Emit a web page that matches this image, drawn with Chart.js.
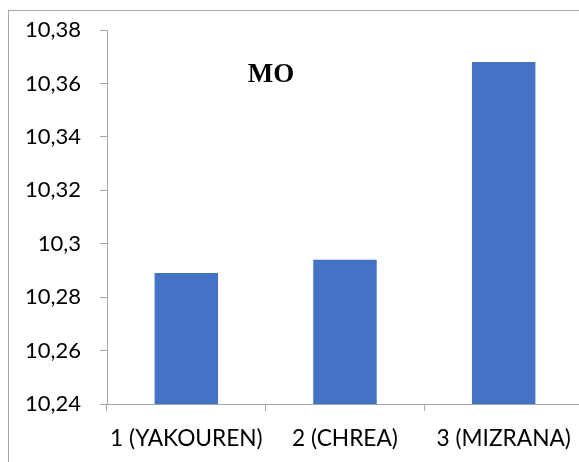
<!DOCTYPE html>
<html>
<head>
<meta charset="utf-8">
<script src="https://cdn.jsdelivr.net/npm/chart.js@4.4.1/dist/chart.umd.min.js"></script>
<style>
  html, body { margin: 0; padding: 0; background: #fff; overflow: hidden; }
  #wrap { position: relative; width: 579px; height: 462px; overflow: hidden; }
  #frame { position: absolute; left: 8px; top: 10px; width: 640px; height: 520px;
           border: 1px solid #a6a6a6; box-sizing: border-box; }
  #box { position: absolute; left: 0; top: 0; width: 600px; height: 462px; }
</style>
</head>
<body>
<div id="wrap">
  <div id="frame"></div>
  <div id="box"><canvas id="c" width="600" height="462"></canvas></div>
</div>
<script>
const categories = ['1 (YAKOUREN)', '2 (CHREA)', '3 (MIZRANA)'];
const moValues = [10.289, 10.294, 10.368];
const yTicks = [10.24, 10.26, 10.28, 10.30, 10.32, 10.34, 10.36, 10.38];
const chartTitle = 'MO';

const fmt = v => {
  const s = (Math.round(v * 100) / 100).toString();
  return s.replace('.', ',');
};

// Bold title drawn inside the plot area
const innerTitle = {
  id: 'innerTitle',
  afterDatasetsDraw(chart) {
    const ctx = chart.ctx;
    ctx.save();
    ctx.font = 'bold 27px "Liberation Serif", "Times New Roman", serif';
    ctx.fillStyle = '#000';
    ctx.textAlign = 'center';
    ctx.textBaseline = 'alphabetic';
    ctx.fillText(chartTitle, 271, 82);
    ctx.restore();
  }
};

const axisGrey = '#a6a6a6';
const yFont = { family: 'Lato, "Open Sans", sans-serif', size: 22 };
const xFont = { family: 'Lato, "Open Sans", sans-serif', size: 22.7 };

new Chart(document.getElementById('c'), {
  type: 'bar',
  data: {
    labels: categories,
    datasets: [{
      data: moValues,
      backgroundColor: '#4472C4',
      borderWidth: 0,
      categoryPercentage: 1.0,
      barPercentage: 0.4
    }]
  },
  options: {
    responsive: false,
    animation: false,
    layout: { padding: { top: 30, right: 17, left: 0, bottom: 0 } },
    plugins: { legend: { display: false }, tooltip: { enabled: false }, title: { display: false } },
    scales: {
      y: {
        min: 10.24,
        max: 10.38,
        afterBuildTicks(scale) { scale.ticks = yTicks.map(v => ({ value: v })); },
        afterFit(scale) {
          scale.width = 107;
          scale.paddingTop = 0;
          scale.paddingBottom = 0;
        },
        ticks: {
          color: '#000',
          font: yFont,
          padding: 19,
          callback: v => fmt(v)
        },
        grid: {
          drawOnChartArea: false,
          drawTicks: true,
          tickLength: 7,
          color: axisGrey
        },
        border: { display: true, color: axisGrey, width: 1 }
      },
      x: {
        afterFit(scale) {
          scale.height = 58;
          scale.paddingLeft = 0;
          scale.paddingRight = 0;
        },
        ticks: {
          color: '#000',
          font: xFont,
          padding: 14,
          maxRotation: 0,
          autoSkip: false
        },
        grid: {
          offset: true,
          drawOnChartArea: false,
          drawTicks: true,
          tickLength: 7,
          color: axisGrey
        },
        border: { display: true, color: axisGrey, width: 1 }
      }
    }
  },
  plugins: [innerTitle]
});
</script>
</body>
</html>
